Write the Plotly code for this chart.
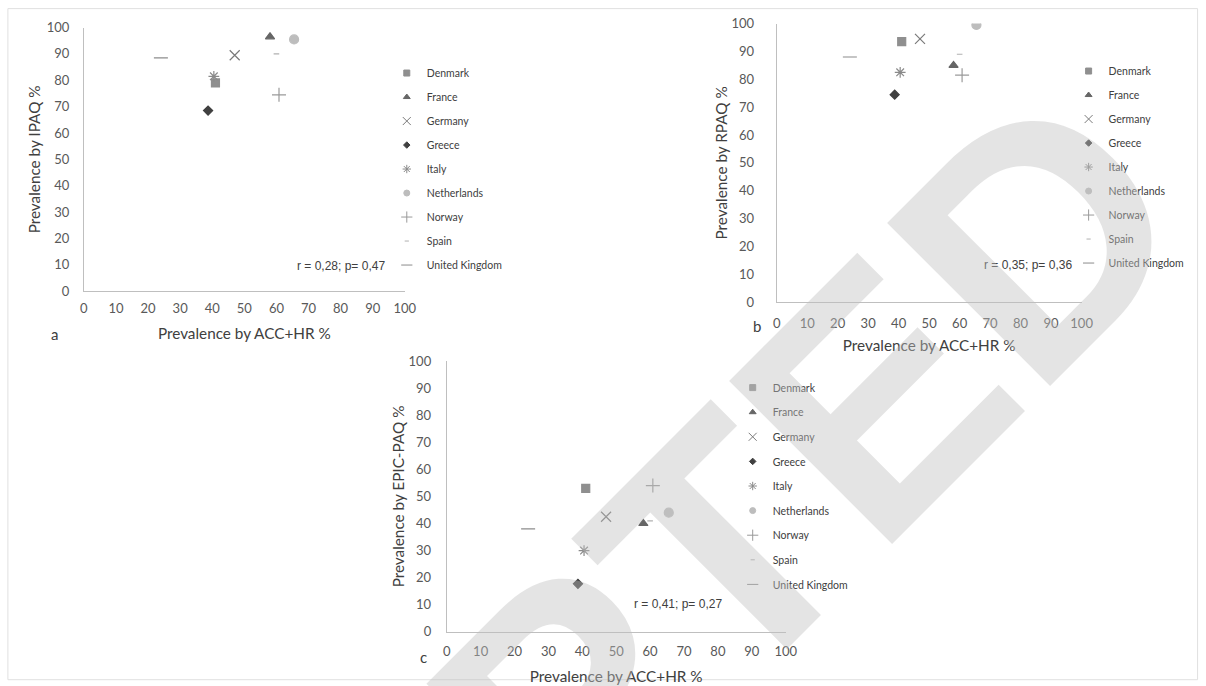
import plotly.graph_objects as go

W, H = 1206, 686

countries = ["Denmark", "France", "Germany", "Greece", "Italy",
             "Netherlands", "Norway", "Spain", "United Kingdom"]
acc_hr = [41, 58, 47, 38.7, 40.5, 65.5, 60.8, 60, 24]
ipaq = [79, 96.5, 89.5, 68.5, 81.5, 95.5, 74.5, 90, 88.5]
rpaq = [93.5, 85, 94.5, 74.5, 82.5, 99.5, 81.5, 89, 88]
epic = [53, 40, 42.5, 17.7, 30, 44, 54, 41, 38]

ticks = [0, 10, 20, 30, 40, 50, 60, 70, 80, 90, 100]
tick_labels = [str(t) for t in ticks]
corr_text = ["r = 0,28; p= 0,47", "r = 0,35; p= 0,36", "r = 0,41; p= 0,27"]
y_titles = ["Prevalence by IPAQ %", "Prevalence by RPAQ %", "Prevalence by EPIC-PAQ %"]
x_title = "Prevalence by ACC+HR %"
panel_letters = ["a", "b", "c"]

symbols = ["square", "triangle-up", "x-thin-open", "diamond", "asterisk-open",
           "circle", "cross-thin-open", "line-ew-open", "line-ew-open"]
colors = ["#8f8f8f", "#666666", "#7a7a7a", "#404040", "#8a8a8a",
          "#bdbdbd", "#9a9a9a", "#b0b0b0", "#8c8c8c"]
sizes = [8, 8, 10, 7, 9, 9, 10, 4, 10]
legend_sizes = [6, 6, 8, 5, 7, 6, 8, 3, 8]

# placement helpers: target pixel positions measured on the reference
SX, OX = 0.987, 4.1
SY, OY = 0.978, 7.4


def px_x(p):
    return ((p - OX) / SX) / W


def px_y(p):
    return 1 - ((p - OY) / SY) / H


# panel geometry in pixels: (x at 0, x at 100, y at 0, y at 100)
panels = [
    (84, 405, 291, 27),
    (777, 1082, 302, 23),
    (447, 786, 632, 361),
]
legend_pos = [(387, 58), (1069, 56), (733, 373)]
legend_gap = [5, 5, 5.6]
tick_standoff_y = [11, 19, 12]
tick_standoff_x = [5, 9, 8]
title_standoff_x = [13, 10, 12]
title_standoff_y = [2, 0, 0]
corr_pos = [(341, 266), (1028, 265), (678, 604)]
letter_pos = [(55, 334), (757, 326), (424, 657)]
ydata = [ipaq, rpaq, epic]

fig = go.Figure()

for i in range(3):
    suffix = "" if i == 0 else str(i + 1)
    leg = "legend" if i == 0 else "legend" + str(i + 1)
    for c, name in enumerate(countries):
        fig.add_trace(go.Scatter(
            x=[acc_hr[c]], y=[ydata[i][c]], mode="markers", name=name,
            xaxis="x" + suffix, yaxis="y" + suffix, showlegend=False,
            legendgroup=f"{i}-{name}",
            marker=dict(symbol=symbols[c], color=colors[c], size=sizes[c],
                        line=dict(width=1.2, color=colors[c])),
            hovertemplate=name + ": %{x}, %{y}<extra></extra>",
        ))
    for c, name in enumerate(countries):
        fig.add_trace(go.Scatter(
            x=[None], y=[None], mode="markers", name=name,
            xaxis="x" + suffix, yaxis="y" + suffix, legend=leg,
            legendgroup=f"{i}-{name}", showlegend=True,
            marker=dict(symbol=symbols[c], color=colors[c], size=legend_sizes[c],
                        line=dict(width=1, color=colors[c])),
        ))
    x0, x1, y0, y1 = panels[i]
    axis_common = dict(range=[0, 100], tickmode="array", tickvals=ticks,
                       ticktext=tick_labels, showgrid=False, zeroline=False,
                       showline=True, linecolor="#bfbfbf", linewidth=1,
                       ticks="", tickfont=dict(family="Lato", size=13, color="#595959"))
    fig.update_layout(**{
        "xaxis" + suffix: dict(
            axis_common, domain=[px_x(x0), px_x(x1)],
            anchor="y" + suffix, ticklabelstandoff=tick_standoff_x[i],
            title=dict(text=x_title, standoff=title_standoff_x[i],
                       font=dict(family="Lato", size=15.3, color="#404040"))),
        "yaxis" + suffix: dict(
            axis_common, domain=[px_y(y0), px_y(y1)],
            anchor="x" + suffix, ticklabelstandoff=tick_standoff_y[i],
            title=dict(text=y_titles[i], standoff=title_standoff_y[i],
                       font=dict(family="Lato", size=15.3, color="#404040"))),
        leg: dict(x=px_x(legend_pos[i][0]), y=px_y(legend_pos[i][1]),
                  xanchor="left", yanchor="top", bgcolor="rgba(0,0,0,0)",
                  tracegroupgap=legend_gap[i], itemsizing="trace",
                  font=dict(family="Lato", size=10.5, color="#404040")),
    })
    fig.add_annotation(x=px_x(corr_pos[i][0]), y=px_y(corr_pos[i][1]),
                       xref="paper", yref="paper", text=corr_text[i],
                       showarrow=False, xanchor="center", yanchor="middle",
                       font=dict(family="Liberation Sans", size=12, color="#404040"))
    fig.add_annotation(x=px_x(letter_pos[i][0]), y=px_y(letter_pos[i][1]),
                       xref="paper", yref="paper", text=panel_letters[i],
                       showarrow=False, xanchor="center", yanchor="middle",
                       font=dict(family="Lato", size=15, color="#404040"))

# watermark
fig.add_annotation(x=px_x(472), y=px_y(800), xref="paper", yref="paper",
                   text="<b>ACCEPTED</b>", showarrow=False, textangle=-45,
                   xanchor="center", yanchor="middle",
                   font=dict(family="Liberation Sans", size=335,
                             color="rgba(190,190,190,0.42)"))

fig.add_shape(type="rect", xref="paper", yref="paper",
              x0=px_x(8), x1=px_x(1198), y0=px_y(680), y1=px_y(8),
              line=dict(color="#e0e0e0", width=1), layer="below")

fig.update_layout(autosize=True, margin=dict(l=0, r=0, t=0, b=0),
                  paper_bgcolor="white", plot_bgcolor="white",
                  showlegend=True)

fig.write_html("out.html",
               default_width="100vw", default_height="100vh",
               config={"responsive": True, "displayModeBar": False},
               post_script="document.body.style.margin='0';"
                           "document.body.style.padding='0';"
                           "document.body.style.overflow='hidden';"
                           "window.dispatchEvent(new Event('resize'));")
